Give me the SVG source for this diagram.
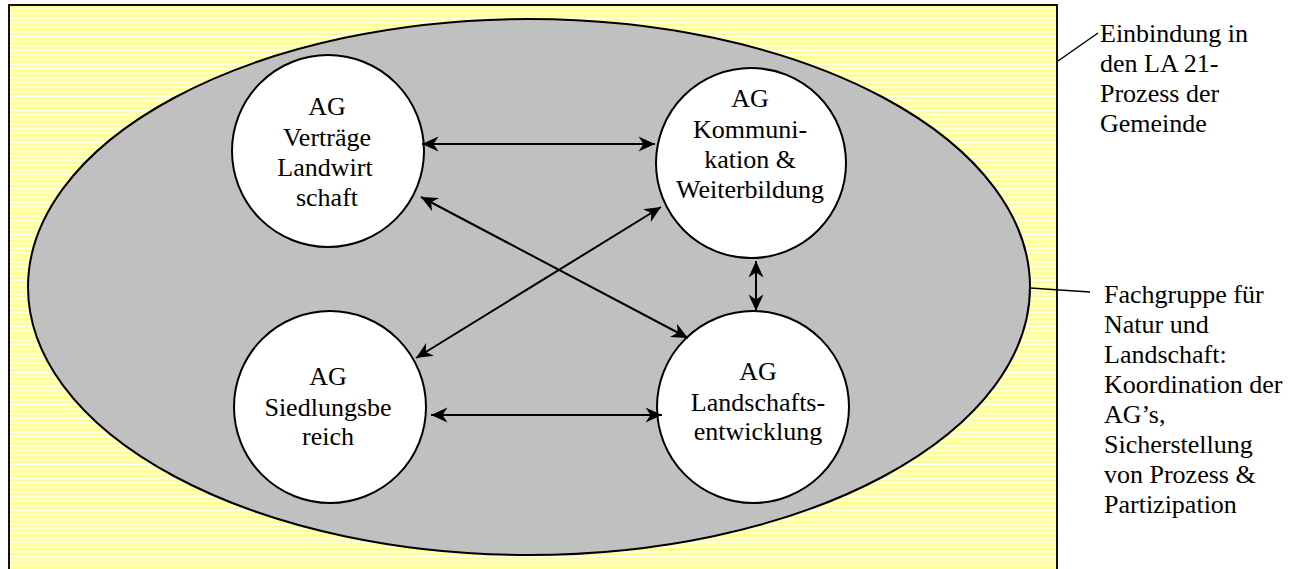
<svg xmlns="http://www.w3.org/2000/svg" width="1306" height="569" viewBox="0 0 1306 569">
<defs>
<pattern id="stripes" patternUnits="userSpaceOnUse" x="0" y="5" width="10" height="4.6">
<rect x="0" y="0" width="10" height="4.6" fill="#FFFF99"/>
<rect x="0" y="3.4" width="10" height="1.2" fill="#FFFFFF"/>
</pattern>
<marker id="arr" viewBox="-18 -9 19 18" refX="0" refY="0" markerUnits="userSpaceOnUse" markerWidth="19" markerHeight="18" orient="auto-start-reverse">
<path d="M0,0 L-16.5,-7.5 L-11.5,0 L-16.5,7.5 Z" fill="#000"/>
</marker>
</defs>
<style>
.node circle{fill:#fff;stroke:#000;stroke-width:2}
.t{font-family:"Liberation Serif","Times New Roman",serif;font-size:26px;fill:#000}
.c{text-anchor:middle}
.conn line{stroke:#000;stroke-width:2;marker-start:url(#arr);marker-end:url(#arr)}
.lead{stroke:#000;stroke-width:1.5;fill:none}
</style>
<rect width="1306" height="569" fill="#fff"/>
<g id="frame">
<rect x="9" y="5" width="1048" height="600" fill="url(#stripes)" stroke="#111" stroke-width="2"/>
</g>
<g id="fachgruppe">
<ellipse cx="529" cy="287" rx="501" ry="268" fill="#C0C0C0" stroke="#000" stroke-width="2"/>
</g>
<g id="ag-vertraege" class="node">
<circle cx="328" cy="151" r="96"/>
<text class="t c" x="327" y="115">AG</text>
<text class="t c" x="327" y="146">Verträge</text>
<text class="t c" x="325" y="176">Landwirt</text>
<text class="t c" x="327" y="206">schaft</text>
</g>
<g id="ag-kommunikation" class="node">
<circle cx="751" cy="163" r="95"/>
<text class="t c" x="750" y="107">AG</text>
<text class="t c" x="750" y="138">Kommuni-</text>
<text class="t c" x="750" y="168">kation &amp;</text>
<text class="t c" x="750" y="198">Weiterbildung</text>
</g>
<g id="ag-siedlung" class="node">
<circle cx="330" cy="407" r="96"/>
<text class="t c" x="328" y="385">AG</text>
<text class="t c" x="328" y="416">Siedlungsbe</text>
<text class="t c" x="328" y="445">reich</text>
</g>
<g id="ag-landschaft" class="node">
<circle cx="753" cy="407" r="96"/>
<text class="t c" x="758" y="380">AG</text>
<text class="t c" x="758" y="411">Landschafts-</text>
<text class="t c" x="758" y="440">entwicklung</text>
</g>
<g id="connectors" class="conn">
<line x1="422" y1="144" x2="655" y2="144"/>
<line x1="421" y1="197" x2="688" y2="338"/>
<line x1="416" y1="358" x2="661" y2="207"/>
<line x1="431" y1="415" x2="662" y2="415"/>
<line x1="756" y1="261" x2="756" y2="311"/>
</g>
<g id="label-einbindung">
<path class="lead" d="M1058,61 L1098,33"/>
<text class="t" x="1100" y="42">Einbindung in</text>
<text class="t" x="1100" y="72">den LA 21-</text>
<text class="t" x="1100" y="102">Prozess der</text>
<text class="t" x="1100" y="132">Gemeinde</text>
</g>
<g id="label-fachgruppe">
<path class="lead" d="M1030,288 L1090,292"/>
<text class="t" x="1104" y="303">Fachgruppe für</text>
<text class="t" x="1104" y="333">Natur und</text>
<text class="t" x="1104" y="363">Landschaft:</text>
<text class="t" x="1104" y="393">Koordination der</text>
<text class="t" x="1104" y="423">AG’s,</text>
<text class="t" x="1104" y="453">Sicherstellung</text>
<text class="t" x="1104" y="483">von Prozess &amp;</text>
<text class="t" x="1104" y="513">Partizipation</text>
</g>
</svg>
